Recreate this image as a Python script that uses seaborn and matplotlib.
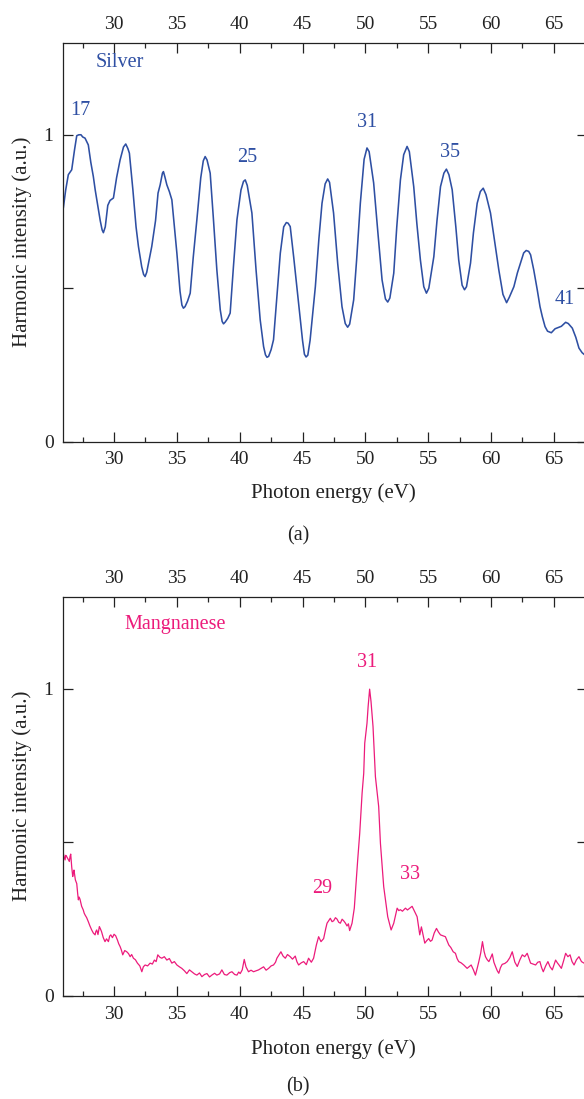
import numpy as np
import pandas as pd
import matplotlib
matplotlib.use("Agg")
import matplotlib.pyplot as plt
from matplotlib.ticker import MultipleLocator, FixedLocator, FixedFormatter
import seaborn as sns

# ---------------- data ----------------
silver_energy = [25.96, 26.15, 26.36, 26.63, 26.85, 27.03, 27.20, 27.37, 27.50, 27.69,
                 27.95, 28.15, 28.35, 28.50, 28.67, 28.90, 29.05, 29.15, 29.30, 29.50,
                 29.68, 29.95, 30.20, 30.48, 30.75, 30.93, 31.10, 31.22, 31.50, 31.75,
                 31.94, 32.20, 32.35, 32.47, 32.60, 33.00, 33.30, 33.50, 33.67, 33.85,
                 33.93, 34.05, 34.20, 34.40, 34.60, 34.80, 35.00, 35.25, 35.40, 35.52,
                 35.65, 35.85, 36.06, 36.30, 36.59, 36.90, 37.10, 37.25, 37.40, 37.65,
                 37.90, 38.18, 38.45, 38.60, 38.71, 38.85, 39.05, 39.24, 39.50, 39.78,
                 40.10, 40.30, 40.44, 40.60, 40.97, 41.30, 41.63, 41.90, 42.05, 42.17,
                 42.30, 42.50, 42.69, 42.95, 43.23, 43.50, 43.71, 43.85, 44.02, 44.30,
                 44.69, 45.00, 45.15, 45.28, 45.42, 45.60, 46.02, 46.30, 46.55, 46.80,
                 47.00, 47.15, 47.47, 47.80, 48.14, 48.40, 48.59, 48.75, 49.07, 49.30,
                 49.60, 49.90, 50.13, 50.30, 50.66, 51.00, 51.33, 51.60, 51.78, 51.95,
                 52.26, 52.50, 52.79, 53.05, 53.32, 53.50, 53.85, 54.10, 54.38, 54.65,
                 54.86, 55.05, 55.45, 55.70, 55.98, 56.25, 56.45, 56.65, 56.91, 57.20,
                 57.43, 57.70, 57.89, 58.05, 58.37, 58.60, 58.90, 59.15, 59.38, 59.60,
                 59.96, 60.30, 60.62, 60.95, 61.24, 61.45, 61.82, 62.10, 62.35, 62.60,
                 62.80, 63.00, 63.15, 63.40, 63.68, 63.90, 64.08, 64.30, 64.50, 64.80,
                 65.10, 65.40, 65.60, 65.94, 66.15, 66.47, 66.75, 67.00, 67.25, 67.60]
silver_intensity = [0.761, 0.820, 0.870, 0.886, 0.950, 0.997, 1.000, 1.000, 0.993, 0.989,
                    0.967, 0.910, 0.864, 0.820, 0.777, 0.720, 0.690, 0.681, 0.700, 0.770,
                    0.786, 0.794, 0.860, 0.918, 0.960, 0.970, 0.955, 0.940, 0.820, 0.700,
                    0.636, 0.570, 0.545, 0.538, 0.552, 0.636, 0.720, 0.810, 0.837, 0.875,
                    0.880, 0.862, 0.837, 0.815, 0.788, 0.700, 0.614, 0.490, 0.445, 0.435,
                    0.440, 0.458, 0.484, 0.600, 0.723, 0.860, 0.915, 0.929, 0.918, 0.875,
                    0.730, 0.560, 0.430, 0.392, 0.384, 0.390, 0.402, 0.419, 0.570, 0.723,
                    0.820, 0.848, 0.853, 0.835, 0.745, 0.560, 0.397, 0.310, 0.283, 0.275,
                    0.278, 0.300, 0.332, 0.470, 0.614, 0.700, 0.714, 0.712, 0.701, 0.600,
                    0.451, 0.330, 0.285, 0.276, 0.282, 0.330, 0.505, 0.660, 0.777, 0.840,
                    0.856, 0.845, 0.745, 0.580, 0.440, 0.385, 0.373, 0.383, 0.462, 0.590,
                    0.777, 0.920, 0.957, 0.945, 0.843, 0.680, 0.527, 0.465, 0.455, 0.468,
                    0.549, 0.700, 0.853, 0.935, 0.962, 0.945, 0.831, 0.710, 0.592, 0.505,
                    0.484, 0.500, 0.603, 0.720, 0.831, 0.875, 0.888, 0.870, 0.821, 0.700,
                    0.592, 0.510, 0.495, 0.505, 0.582, 0.680, 0.777, 0.815, 0.826, 0.805,
                    0.745, 0.650, 0.560, 0.480, 0.453, 0.470, 0.505, 0.550, 0.582, 0.615,
                    0.623, 0.620, 0.609, 0.560, 0.495, 0.440, 0.408, 0.375, 0.360, 0.355,
                    0.368, 0.373, 0.376, 0.389, 0.385, 0.370, 0.340, 0.305, 0.290, 0.278]

mn_energy = [25.96, 26.03, 26.10, 26.15, 26.20, 26.32, 26.44, 26.50, 26.55, 26.63,
             26.71, 26.76, 26.81, 26.92, 27.03, 27.10, 27.16, 27.22, 27.29, 27.42,
             27.55, 27.62, 27.69, 27.82, 27.95, 28.08, 28.22, 28.35, 28.49, 28.55,
             28.62, 28.72, 28.83, 28.92, 29.00, 29.14, 29.28, 29.40, 29.55, 29.65,
             29.74, 29.87, 30.00, 30.13, 30.27, 30.37, 30.48, 30.58, 30.69, 30.85,
             31.01, 31.15, 31.28, 31.40, 31.54, 31.70, 31.86, 32.05, 32.21, 32.33,
             32.47, 32.67, 32.87, 33.05, 33.21, 33.35, 33.48, 33.65, 33.80, 34.00,
             34.20, 34.40, 34.60, 34.80, 35.00, 35.20, 35.39, 35.60, 35.79, 36.00,
             36.19, 36.40, 36.59, 36.80, 36.99, 37.20, 37.39, 37.60, 37.78, 38.00,
             38.18, 38.40, 38.58, 38.78, 38.98, 39.20, 39.38, 39.60, 39.78, 39.92,
             40.04, 40.20, 40.36, 40.50, 40.70, 40.90, 41.10, 41.30, 41.50, 41.70,
             41.90, 42.10, 42.30, 42.50, 42.69, 42.85, 42.96, 43.10, 43.28, 43.45,
             43.63, 43.80, 44.02, 44.20, 44.42, 44.55, 44.69, 44.90, 45.09, 45.30,
             45.48, 45.70, 45.88, 46.10, 46.28, 46.47, 46.68, 46.85, 46.95, 47.21,
             47.35, 47.48, 47.62, 47.75, 47.88, 48.01, 48.15, 48.27, 48.40, 48.54,
             48.65, 48.75, 48.94, 49.12, 49.39, 49.55, 49.74, 49.87, 49.95, 50.13,
             50.22, 50.34, 50.45, 50.61, 50.80, 51.06, 51.20, 51.46, 51.78, 52.05,
             52.26, 52.53, 52.66, 52.79, 52.95, 53.19, 53.35, 53.59, 53.72, 53.85,
             54.12, 54.33, 54.46, 54.73, 54.88, 55.04, 55.18, 55.31, 55.48, 55.66,
             55.82, 55.98, 56.18, 56.37, 56.64, 56.80, 56.99, 57.17, 57.30, 57.43,
             57.62, 57.83, 57.95, 58.10, 58.25, 58.42, 58.60, 58.76, 58.90, 59.03,
             59.18, 59.32, 59.45, 59.56, 59.70, 59.83, 59.95, 60.10, 60.23, 60.36,
             60.50, 60.62, 60.75, 60.89, 61.10, 61.29, 61.50, 61.69, 61.90, 62.09,
             62.30, 62.49, 62.68, 62.88, 63.15, 63.35, 63.55, 63.72, 63.89, 64.03,
             64.16, 64.35, 64.53, 64.70, 64.88, 65.00, 65.14, 65.28, 65.41, 65.60,
             65.78, 65.94, 66.12, 66.29, 66.45, 66.61, 66.80, 67.00, 67.20, 67.40, 67.60]
mn_intensity = [0.465, 0.452, 0.443, 0.458, 0.456, 0.447, 0.438, 0.455, 0.462, 0.420,
                0.389, 0.402, 0.410, 0.378, 0.366, 0.335, 0.313, 0.322, 0.315, 0.292,
                0.280, 0.270, 0.264, 0.255, 0.242, 0.228, 0.215, 0.205, 0.199, 0.210,
                0.215, 0.200, 0.226, 0.218, 0.210, 0.190, 0.177, 0.186, 0.177, 0.195,
                0.199, 0.190, 0.201, 0.196, 0.182, 0.170, 0.161, 0.150, 0.134, 0.148,
                0.144, 0.138, 0.128, 0.135, 0.123, 0.118, 0.107, 0.098, 0.079, 0.095,
                0.101, 0.098, 0.107, 0.104, 0.117, 0.112, 0.134, 0.126, 0.123, 0.128,
                0.117, 0.122, 0.107, 0.112, 0.101, 0.095, 0.090, 0.082, 0.073, 0.085,
                0.079, 0.072, 0.068, 0.075, 0.063, 0.070, 0.073, 0.062, 0.068, 0.074,
                0.068, 0.072, 0.085, 0.070, 0.068, 0.076, 0.079, 0.070, 0.068, 0.078,
                0.073, 0.085, 0.119, 0.095, 0.079, 0.084, 0.079, 0.082, 0.085, 0.090,
                0.095, 0.084, 0.090, 0.098, 0.101, 0.110, 0.123, 0.132, 0.144, 0.130,
                0.123, 0.135, 0.128, 0.120, 0.130, 0.112, 0.101, 0.108, 0.112, 0.102,
                0.123, 0.110, 0.123, 0.166, 0.193, 0.177, 0.187, 0.220, 0.237, 0.253,
                0.242, 0.245, 0.255, 0.250, 0.240, 0.237, 0.250, 0.245, 0.238, 0.228,
                0.235, 0.213, 0.237, 0.286, 0.443, 0.529, 0.660, 0.725, 0.823, 0.888,
                0.942, 0.999, 0.959, 0.877, 0.714, 0.617, 0.497, 0.356, 0.258, 0.215,
                0.237, 0.286, 0.278, 0.281, 0.276, 0.286, 0.280, 0.288, 0.292, 0.281,
                0.258, 0.199, 0.225, 0.172, 0.180, 0.187, 0.178, 0.182, 0.205, 0.220,
                0.208, 0.199, 0.196, 0.193, 0.166, 0.158, 0.144, 0.139, 0.122, 0.112,
                0.108, 0.101, 0.096, 0.090, 0.095, 0.101, 0.085, 0.068, 0.090, 0.112,
                0.140, 0.177, 0.145, 0.128, 0.118, 0.112, 0.122, 0.137, 0.110, 0.096,
                0.082, 0.074, 0.092, 0.103, 0.106, 0.112, 0.125, 0.144, 0.110, 0.096,
                0.118, 0.134, 0.128, 0.139, 0.107, 0.104, 0.101, 0.110, 0.112, 0.092,
                0.079, 0.098, 0.112, 0.095, 0.085, 0.100, 0.117, 0.108, 0.101, 0.090,
                0.115, 0.139, 0.128, 0.134, 0.112, 0.101, 0.118, 0.128, 0.112, 0.107, 0.110]

silver_labels = ["17", "25", "31", "35", "41"]
silver_label_x = [27.29, 40.60, 50.16, 56.77, 65.86]
silver_label_y = [1.080, 0.925, 1.039, 0.941, 0.462]

mn_labels = ["31", "29", "33"]
mn_label_x = [50.16, 46.57, 53.59]
mn_label_y = [1.085, 0.349, 0.394]

x_major_ticks = [30, 35, 40, 45, 50, 55, 60, 65]
y_ticks = [0, 0.5, 1]
y_tick_labels = ["0", "", "1"]

BLUE = "#2E4FA3"
PINK = "#EC1B7B"

# ---------------- style ----------------
sns.set_style("ticks")
plt.rcParams["font.family"] = ["Liberation Serif", "DejaVu Serif"]
plt.rcParams["axes.linewidth"] = 0.9
plt.rcParams["axes.edgecolor"] = "#222222"

fig = plt.figure(figsize=(5.84, 10.99), dpi=100)
W, H = 584.0, 1099.0
left_px, right_px = 63.3, 586.5
ax_top = fig.add_axes([left_px / W, 1 - 441.7 / H, (right_px - left_px) / W, (441.7 - 42.7) / H])
ax_bot = fig.add_axes([left_px / W, 1 - 996.0 / H, (right_px - left_px) / W, (996.0 - 596.7) / H])

df_ag = pd.DataFrame({"energy": silver_energy, "intensity": silver_intensity})
df_mn = pd.DataFrame({"energy": mn_energy, "intensity": mn_intensity})

sns.lineplot(data=df_ag, x="energy", y="intensity", ax=ax_top, color=BLUE,
             linewidth=1.15, sort=False, estimator=None)
sns.lineplot(data=df_mn, x="energy", y="intensity", ax=ax_bot, color=PINK,
             linewidth=0.9, sort=False, estimator=None)

for ax in (ax_top, ax_bot):
    ax.set_xlim(25.96, 67.6)
    ax.set_ylim(0, 1.3)
    ax.set_xlabel("")
    ax.set_ylabel("")
    ax.xaxis.set_major_locator(FixedLocator(x_major_ticks))
    ax.xaxis.set_minor_locator(MultipleLocator(2.5))
    ax.yaxis.set_major_locator(FixedLocator(y_ticks))
    ax.yaxis.set_major_formatter(FixedFormatter(y_tick_labels))
    ax.tick_params(axis="x", which="major", direction="in", length=7, width=0.9,
                   top=True, bottom=True, labeltop=True, labelbottom=True,
                   labelsize=14, pad=7, colors="#222222")
    ax.tick_params(axis="x", which="minor", direction="in", length=3.6, width=0.9,
                   top=True, bottom=True)
    ax.tick_params(axis="y", which="major", direction="in", length=7, width=0.9,
                   left=True, right=True, labelsize=14, pad=7, colors="#222222")
    ax.spines["right"].set_visible(False)
    for s in ("left", "top", "bottom"):
        ax.spines[s].set_visible(True)

# annotations
ax_top.text(28.57, 1.235, "Silver", color=BLUE, fontsize=14.5, ha="left", va="center")
for t, x, y in zip(silver_labels, silver_label_x, silver_label_y):
    ax_top.text(x, y, t, color=BLUE, fontsize=14.5, ha="center", va="center")

ax_bot.text(30.80, 1.208, "Mangnanese", color=PINK, fontsize=14.5, ha="left", va="center")
for t, x, y in zip(mn_labels, mn_label_x, mn_label_y):
    ax_bot.text(x, y, t, color=PINK, fontsize=14.5, ha="center", va="center")

# axis labels and panel tags
for yc_lab, yc_xl, yc_tag, tag in ((242.0, 493.0, 536.0, "(a)"), (796.0, 1049.0, 1087.0, "(b)")):
    fig.text(22 / W, 1 - yc_lab / H, "Harmonic intensity (a.u.)", rotation=90,
             ha="center", va="center", fontsize=15, color="#222222")
    fig.text(333 / W, 1 - yc_xl / H, "Photon energy (eV)", ha="center", va="center",
             fontsize=15, color="#222222")
    fig.text(298 / W, 1 - yc_tag / H, tag, ha="center", va="center",
             fontsize=14.5, color="#222222")

fig.savefig("out.png", dpi=100)
